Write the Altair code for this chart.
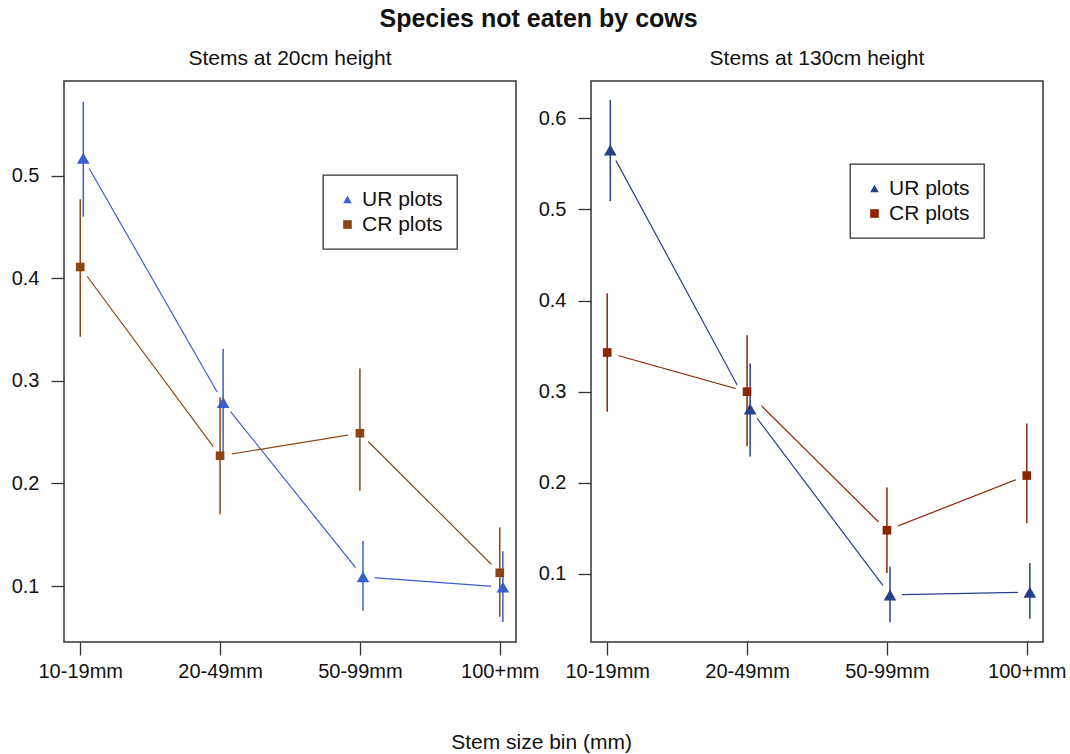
import altair as alt
import pandas as pd

# ---- data ----
categories = ["10-19mm", "20-49mm", "50-99mm", "100+mm"]
series = ["UR plots", "CR plots"]

# Stems at 20cm height
ur20_mean = [0.517, 0.279, 0.109, 0.099]
ur20_lo = [0.460, 0.227, 0.076, 0.065]
ur20_hi = [0.572, 0.331, 0.144, 0.134]
cr20_mean = [0.411, 0.227, 0.249, 0.113]
cr20_lo = [0.343, 0.170, 0.193, 0.070]
cr20_hi = [0.477, 0.284, 0.312, 0.157]

# Stems at 130cm height
ur130_mean = [0.565, 0.281, 0.077, 0.080]
ur130_lo = [0.509, 0.229, 0.047, 0.051]
ur130_hi = [0.620, 0.331, 0.108, 0.112]
cr130_mean = [0.343, 0.300, 0.148, 0.208]
cr130_lo = [0.278, 0.240, 0.101, 0.156]
cr130_hi = [0.408, 0.362, 0.195, 0.265]

UR_SHIFT = 0.022  # small dodge of the UR series
MARK_SIZES = [160, 75]  # triangle, square

FONT = "Liberation Sans"
label_expr = "[" + ",".join("'%s'" % c for c in categories) + "][datum.value - 1]"


def make_df(ur_m, ur_lo, ur_hi, cr_m, cr_lo, cr_hi):
    rows = []
    for i in range(len(categories)):
        rows.append(dict(x=i + 1 + UR_SHIFT, series="UR plots",
                         mean=ur_m[i], lo=ur_lo[i], hi=ur_hi[i]))
    for i in range(len(categories)):
        rows.append(dict(x=i + 1, series="CR plots",
                         mean=cr_m[i], lo=cr_lo[i], hi=cr_hi[i]))
    return pd.DataFrame(rows)


def panel(df, colors, ydomain, yticks, title, lx, ly):
    xscale = alt.Scale(domain=[0.884, 4.116], nice=False, zero=False)
    xaxis = alt.Axis(values=[1, 2, 3, 4], labelExpr=label_expr, title=None,
                     grid=False, domain=False, tickSize=13, tickWidth=1.3,
                     tickColor="#333", labelFontSize=20, labelPadding=6,
                     labelOverlap=False, labelFlush=False, labelColor="#111")
    yscale = alt.Scale(domain=ydomain, nice=False, zero=False)
    yaxis = alt.Axis(values=yticks, format=".1f", title=None, grid=False,
                     domain=False, tickSize=13, tickWidth=1.3, tickColor="#333",
                     labelFontSize=20, labelPadding=12, labelColor="#111")
    cscale = alt.Scale(domain=series, range=colors)
    sscale = alt.Scale(domain=series, range=["triangle-up", "square"])

    x = alt.X("x:Q", scale=xscale, axis=xaxis)
    y = alt.Y("mean:Q", scale=yscale, axis=yaxis)
    ylo = alt.Y("lo:Q", scale=yscale, axis=yaxis)

    base = alt.Chart(df)
    lines, halos, rules, points = [], [], [], []
    leg = alt.Legend(title=None, orient="none", legendX=lx, legendY=ly,
                     strokeColor="#333", padding=14, fillColor="white",
                     labelFontSize=21, labelOffset=4, rowPadding=3,
                     symbolSize=75, labelColor="#111")
    for s, col, sz in zip(series, colors, MARK_SIZES):
        sub = base.transform_filter(alt.datum.series == s)
        lines.append(sub.mark_line(strokeWidth=1.2, color=col).encode(x=x, y=y))
        halos.append(sub.mark_point(filled=True, shape="circle", size=560,
                                    opacity=1, color="white",
                                    strokeWidth=0).encode(x=x, y=y))
        rules.append(sub.mark_rule(strokeWidth=1.5, color=col).encode(
            x=x, y=ylo, y2="hi:Q"))
        points.append(sub.mark_point(filled=True, opacity=1, strokeWidth=0,
                                     size=sz).encode(
            x=x, y=y,
            color=alt.Color("series:N", scale=cscale, legend=leg),
            shape=alt.Shape("series:N", scale=sscale, legend=leg)))
    return alt.layer(*lines, *halos, *rules, *points).properties(
        width=452, height=561,
        title=alt.TitleParams(title, fontSize=21, fontWeight="normal",
                              anchor="middle", offset=12, color="#111"))


left = panel(make_df(ur20_mean, ur20_lo, ur20_hi, cr20_mean, cr20_lo, cr20_hi),
             ["#3A5FCD", "#8B4513"], [0.0455, 0.5923], [0.1, 0.2, 0.3, 0.4, 0.5],
             "Stems at 20cm height", 259, 94)
right = panel(make_df(ur130_mean, ur130_lo, ur130_hi, cr130_mean, cr130_lo, cr130_hi),
              ["#27408B", "#8B2500"], [0.0254, 0.6408], [0.1, 0.2, 0.3, 0.4, 0.5, 0.6],
              "Stems at 130cm height", 259, 83)

inner = alt.hconcat(left, right, spacing=75, bounds="flush").resolve_scale(
    color="independent", shape="independent",
    x="independent", y="independent").properties(
    title=alt.TitleParams("Stem size bin (mm)", orient="bottom", anchor="middle",
                          fontSize=21, fontWeight="normal", offset=50, dx=3,
                          color="#111"))

chart = alt.vconcat(inner).properties(
    title=alt.TitleParams("Species not eaten by cows", fontSize=25,
                          fontWeight="bold", anchor="middle", offset=15,
                          color="#111"),
    padding={"left": 10, "top": 7, "right": 0, "bottom": 0},
).configure(font=FONT).configure_view(
    stroke="#333", strokeWidth=1.5
).configure_legend(strokeWidth=1.3)

chart.save("out.html", embed_options={"renderer": "svg", "actions": False})
